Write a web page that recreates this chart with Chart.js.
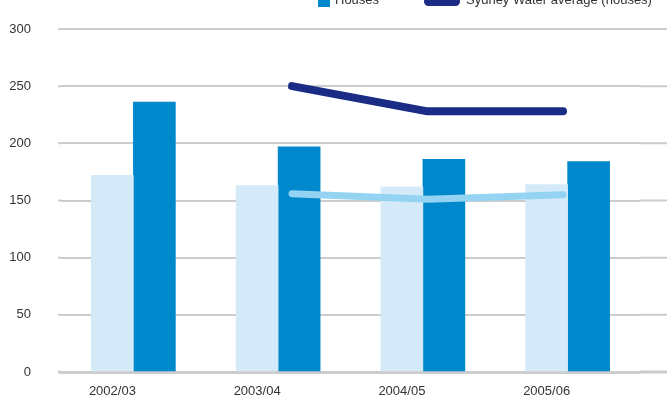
<!DOCTYPE html>
<html>
<head>
<meta charset="utf-8">
<script src="https://cdn.jsdelivr.net/npm/chart.js@4"></script>
<style>
  html, body { margin: 0; padding: 0; background: #fff; overflow: hidden; }
  #wrap { position: relative; width: 667px; height: 401px; }
  #legend { position: absolute; top: 0; left: 0; width: 667px; height: 20px; font-family: 'Liberation Sans', Arial, sans-serif; font-size: 13px; color: #333; }
  .item { position: absolute; top: -7px; line-height: 14px; white-space: nowrap; }
  .swatch { position: absolute; }
</style>
</head>
<body>
<div id="wrap">
  <canvas id="chart" width="667" height="401"></canvas>
  <div id="legend">
    <div class="swatch" style="left:318px; top:-5px; width:12px; height:12px; background:#0088cc;"></div>
    <div class="item" style="left:335px;">Houses</div>
    <div class="swatch" style="left:424px; top:-3px; width:36px; height:9px; border-radius:5px; background:#1a2c85;"></div>
    <div class="item" style="left:466px;">Sydney Water average (houses)</div>
  </div>
</div>
<script>
const years = ['2002/03', '2003/04', '2004/05', '2005/06'];
const units = [172, 163, 162, 164];
const houses = [236, 197, 186, 184];
const avgUnits = [null, 156, 151, 155];
const avgHouses = [null, 250, 228, 228];
const yTicks = [0, 50, 100, 150, 200, 250, 300];

const FONT = "'Liberation Sans', Arial, sans-serif";
const GRID = '#cccccc';

// the average lines sit a little inside the bar groups, so they use their own index axis
const toPoints = arr => arr.map((v, i) => ({ x: i, y: v }));

// stretch the horizontal rules out to the edges of the picture
const extendGrid = {
    id: 'extendGrid',
    beforeDatasetsDraw(chart) {
        const ctx = chart.ctx;
        const y = chart.scales.y;
        ctx.save();
        ctx.strokeStyle = GRID;
        yTicks.forEach(v => {
            const py = y.getPixelForValue(v);
            ctx.lineWidth = v === 0 ? 3 : 2;
            ctx.beginPath();
            ctx.moveTo(chart.chartArea.right, py);
            ctx.lineTo(chart.width, py);
            ctx.moveTo(58, py);
            ctx.lineTo(chart.chartArea.left, py);
            ctx.stroke();
        });
        ctx.restore();
    }
};

new Chart(document.getElementById('chart').getContext('2d'), {
    type: 'bar',
    data: {
        labels: years,
        datasets: [
            {
                type: 'line',
                label: 'Sydney Water average (houses)',
                data: toPoints(avgHouses),
                xAxisID: 'xLine',
                borderColor: '#1a2c85',
                backgroundColor: '#1a2c85',
                borderWidth: 8,
                borderCapStyle: 'round',
                borderJoinStyle: 'round',
                pointRadius: 0,
                tension: 0,
                order: 0
            },
            {
                type: 'line',
                label: 'Sydney Water average (units)',
                data: toPoints(avgUnits),
                xAxisID: 'xLine',
                borderColor: '#94d4f2',
                backgroundColor: '#94d4f2',
                borderWidth: 7,
                borderCapStyle: 'round',
                borderJoinStyle: 'round',
                pointRadius: 0,
                tension: 0,
                order: 1
            },
            {
                label: 'Units',
                data: units,
                backgroundColor: '#d4eaf8',
                barThickness: 42,
                order: 2
            },
            {
                label: 'Houses',
                data: houses,
                backgroundColor: '#0088cc',
                barThickness: 42,
                order: 3
            }
        ]
    },
    options: {
        responsive: false,
        animation: false,
        layout: { padding: { top: 29, right: 27, left: 0, bottom: 0 } },
        plugins: {
            legend: { display: false },
            tooltip: { enabled: false }
        },
        scales: {
            x: {
                grid: { display: false },
                border: { display: true, color: GRID, width: 3 },
                ticks: {
                    color: '#333',
                    font: { family: FONT, size: 13 },
                    padding: 4,
                    labelOffset: -21,
                    maxRotation: 0
                },
                afterFit: s => { s.height = 29; }
            },
            xLine: {
                type: 'linear',
                display: false,
                offset: false,
                min: -0.705,
                max: 3.568
            },
            y: {
                min: 0,
                max: 300,
                grid: { color: GRID, lineWidth: 2, drawTicks: false },
                border: { display: false },
                ticks: {
                    stepSize: 50,
                    color: '#333',
                    font: { family: FONT, size: 13 },
                    padding: 30
                },
                afterFit: s => {
                    s.width = 61;
                    s.paddingTop = 0;
                    s.paddingBottom = 0;
                }
            }
        }
    },
    plugins: [extendGrid]
});
</script>
</body>
</html>
